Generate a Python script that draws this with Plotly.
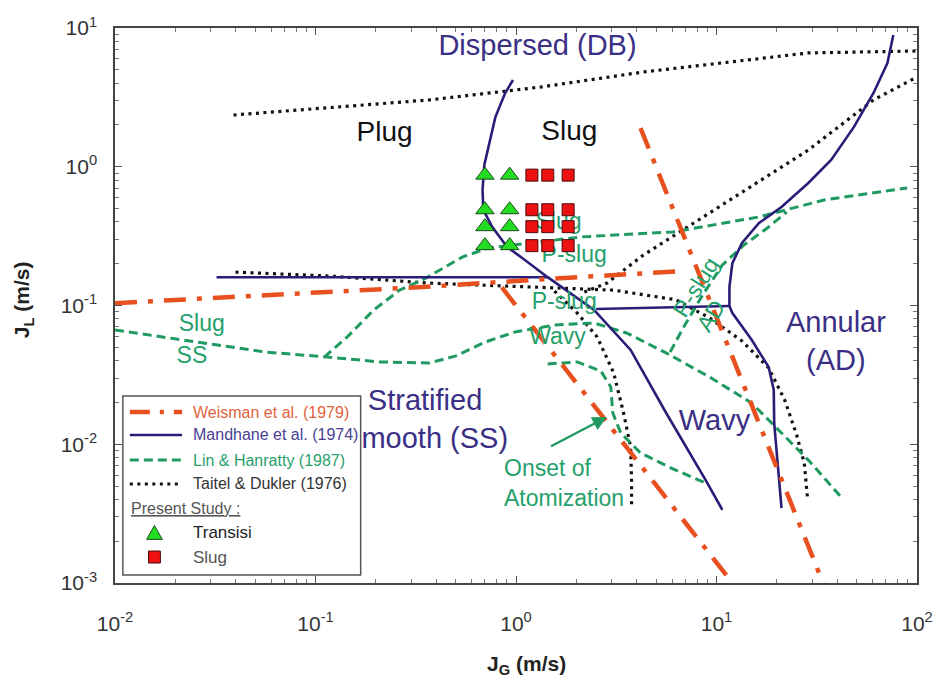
import numpy as np
import plotly.graph_objects as go

# ------------------------------------------------------------------ data
# Weisman et al. (1979)
weisman_h_jg = [0.01, 0.060, 0.344, 1.743, 6.80]
weisman_h_jl = [0.104, 0.119, 0.136, 0.158, 0.177]
weisman_l_jg = [0.85, 3.73, 12.0]
weisman_l_jl = [0.135, 0.00865, 0.001]
weisman_r_jg = [4.18, 12.0, 34.0]
weisman_r_jl = [1.90, 0.0425, 0.001]

# Mandhane et al. (1974)
mandhane_s_jg = [0.0321, 1.438]
mandhane_s_jl = [0.160, 0.160]
mandhane_db_jg = [0.966, 0.883, 0.789, 0.728, 0.695, 0.681, 0.687, 0.762, 0.903,
                  1.107, 1.438, 2.45, 3.73, 5.61, 8.83, 10.7]
mandhane_db_jl = [4.22, 3.40, 2.28, 1.39, 1.03, 0.680, 0.488, 0.368, 0.264,
                  0.213, 0.160, 0.0929, 0.0478, 0.0168, 0.00552, 0.00336]
mandhane_w_jg = [2.51, 11.6]
mandhane_w_jl = [0.0944, 0.0991]
mandhane_a_jg = [76.2, 71.2, 60.7, 48.4, 37.3, 28.7, 21.1, 16.3, 13.4, 12.0, 11.6,
                 11.6, 12.0, 15.0, 18.2, 19.3, 19.4, 20.4, 21.1]
mandhane_a_jl = [8.91, 5.59, 3.40, 1.93, 1.12, 0.764, 0.513, 0.393, 0.282, 0.202, 0.136,
                 0.0991, 0.0883, 0.0564, 0.0360, 0.0246, 0.0142, 0.00621, 0.00347]

# Lin & Hanratty (1987)
lin_1_jg = [0.01, 0.0262, 0.0561, 0.1146, 0.209, 0.369, 0.501, 0.703, 0.989, 1.556,
            2.45, 3.56, 5.61, 9.24, 15.0, 21.1, 28.7, 41.8]
lin_1_jl = [0.0666, 0.0546, 0.0462, 0.0425, 0.0392, 0.0385, 0.0433, 0.0546, 0.0644,
            0.0723, 0.0748, 0.0634, 0.0455, 0.0305, 0.0198, 0.01205, 0.00769, 0.00417]
lin_2_jg = [0.1106, 0.1439, 0.1954, 0.2625, 0.3565, 0.542, 0.728, 0.989, 2.11, 6.07,
            16.3, 34.4, 89.3]
lin_2_jl = [0.0425, 0.0593, 0.0929, 0.129, 0.158, 0.224, 0.2597, 0.273, 0.312, 0.339,
            0.435, 0.576, 0.703]
lin_3_jg = [5.87, 6.95, 8.53, 10.7, 13.7, 18.2, 22.4]
lin_3_jl = [0.0462, 0.0723, 0.119, 0.196, 0.273, 0.368, 0.472]
lin_4_jg = [1.438, 2.02, 2.65, 2.97, 3.04, 3.33, 4.18, 6.07, 8.83]
lin_4_jl = [0.0379, 0.0392, 0.0337, 0.0259, 0.0168, 0.01205, 0.00865, 0.00664, 0.00526]

# Taitel & Dukler (1976)
taitel_top_jg = [0.0390, 0.369, 1.343, 4.32, 28.7, 100]
taitel_top_jl = [2.36, 3.03, 3.76, 4.82, 6.61, 6.83]
taitel_diag_jg = [2.19, 2.84, 4.32, 7.03, 13.4, 28.7, 60.7, 100]
taitel_diag_jl = [0.125, 0.145, 0.231, 0.362, 0.647, 1.32, 3.03, 4.43]
taitel_s_jg = [0.0399, 0.1186, 0.369, 1.343, 3.07, 6.28, 9.24, 13.4, 18.2, 21.9,
               25.1, 27.4, 28.4]
taitel_s_jl = [0.174, 0.163, 0.145, 0.136, 0.129, 0.110, 0.0813, 0.0555, 0.0355,
               0.0208, 0.01167, 0.00733, 0.00417]
taitel_w_jg = [1.556, 2.02, 2.54, 3.07, 3.44, 3.73, 3.77, 3.77]
taitel_w_jl = [0.127, 0.0883, 0.0593, 0.0327, 0.0168, 0.00955, 0.00552, 0.00353]

# Present study
transisi_jg = [0.70, 0.93, 0.70, 0.93, 0.70, 0.93, 0.70, 0.93]
transisi_jl = [0.87, 0.87, 0.49, 0.49, 0.37, 0.37, 0.27, 0.27]
slug_jg = [1.20, 1.44, 1.82, 1.20, 1.44, 1.82, 1.20, 1.44, 1.82, 1.20, 1.44, 1.82]
slug_jl = [0.87, 0.87, 0.87, 0.49, 0.49, 0.49, 0.37, 0.37, 0.37, 0.27, 0.27, 0.27]

# axis ticks
tick_vals_x = [0.01, 0.1, 1, 10, 100]
tick_text_x = ["10<sup>-2</sup>", "10<sup>-1</sup>", "10<sup>0</sup>", "10<sup>1</sup>", "10<sup>2</sup>"]
tick_vals_y = [0.001, 0.01, 0.1, 1, 10]
tick_text_y = ["10<sup>-3</sup>", "10<sup>-2</sup>", "10<sup>-1</sup>", "10<sup>0</sup>", "10<sup>1</sup>"]

# region labels (data coordinates)
navy_labels = ["Dispersed (DB)", "Annular<br>(AD)", "Wavy", "Stratified<br>Smooth (SS)"]
navy_lab_jg = [1.28, 39.4, 9.77, 0.352]
navy_lab_jl = [7.17, 0.0528, 0.0142, 0.01446]
black_labels = ["Plug", "Slug"]
black_lab_jg = [0.221, 1.845]
black_lab_jl = [1.72, 1.75]
green_labels = ["Slug", "SS", "Slug", "P-slug", "P-slug", "Wavy"]
green_lab_jg = [0.0271, 0.0242, 1.63, 1.95, 1.74, 1.61]
green_lab_jl = [0.0723, 0.0425, 0.393, 0.2275, 0.104, 0.0583]

# ------------------------------------------------------------------ styles
FONT = "Liberation Sans, Arial, sans-serif"
W_COL = "#e8501f"
M_COL = "#2a1d78"
L_COL = "#1f9a60"
T_COL = "#111111"
NAVY_TXT = "#3a2f85"
GREEN_TXT = "#24a06b"

W_DASH = "22px,11px,5px,11px"
L_DASH = "9px,5px"
T_DASH = "3px,4.5px"

fig = go.Figure()


def add_line(x, y, color, width, dash):
    fig.add_trace(go.Scatter(x=x, y=y, mode="lines", showlegend=False,
                             line=dict(color=color, width=width, dash=dash),
                             hoverinfo="skip"))


for xs, ys in [(taitel_top_jg, taitel_top_jl), (taitel_diag_jg, taitel_diag_jl),
               (taitel_s_jg, taitel_s_jl), (taitel_w_jg, taitel_w_jl)]:
    add_line(xs, ys, T_COL, 3.2, T_DASH)

for xs, ys in [(lin_1_jg, lin_1_jl), (lin_2_jg, lin_2_jl),
               (lin_3_jg, lin_3_jl), (lin_4_jg, lin_4_jl)]:
    add_line(xs, ys, L_COL, 3, L_DASH)

for xs, ys in [(mandhane_s_jg, mandhane_s_jl), (mandhane_db_jg, mandhane_db_jl),
               (mandhane_w_jg, mandhane_w_jl), (mandhane_a_jg, mandhane_a_jl)]:
    add_line(xs, ys, M_COL, 2.6, "solid")

for xs, ys in [(weisman_h_jg, weisman_h_jl), (weisman_l_jg, weisman_l_jl),
               (weisman_r_jg, weisman_r_jl)]:
    add_line(xs, ys, W_COL, 4.5, W_DASH)

# text labels (below markers and legend box)
fig.add_trace(go.Scatter(x=navy_lab_jg, y=navy_lab_jl, mode="text", text=navy_labels,
                         textfont=dict(family=FONT, size=29, color=NAVY_TXT),
                         showlegend=False, hoverinfo="skip"))
fig.add_trace(go.Scatter(x=black_lab_jg, y=black_lab_jl, mode="text", text=black_labels,
                         textfont=dict(family=FONT, size=28, color="#111111"),
                         showlegend=False, hoverinfo="skip"))
fig.add_trace(go.Scatter(x=green_lab_jg, y=green_lab_jl, mode="text", text=green_labels,
                         textfont=dict(family=FONT, size=23, color=GREEN_TXT),
                         showlegend=False, hoverinfo="skip"))

# present-study markers
fig.add_trace(go.Scatter(x=transisi_jg, y=transisi_jl, mode="markers", showlegend=False,
                         marker=dict(symbol="triangle-up", size=16, color="#22dd22",
                                     line=dict(color="#1a4a1a", width=1))))
fig.add_trace(go.Scatter(x=slug_jg, y=slug_jl, mode="markers", showlegend=False,
                         marker=dict(symbol="square", size=12, color="#ee1111",
                                     line=dict(color="#4a0a0a", width=1))))

annotations = []
# rotated labels
annotations.append(dict(x=np.log10(7.88), y=np.log10(0.136), xref="x", yref="y",
                        text="P-slug", textangle=-58, showarrow=False,
                        font=dict(family=FONT, size=23, color=GREEN_TXT)))
annotations.append(dict(x=np.log10(9.34), y=np.log10(0.084), xref="x", yref="y",
                        text="AD", textangle=-58, showarrow=False,
                        font=dict(family=FONT, size=23, color=GREEN_TXT)))
annotations.append(dict(x=np.log10(0.853), y=np.log10(0.00526), xref="x", yref="y",
                        text="Onset of<br>Atomization", xanchor="left", align="left",
                        showarrow=False, font=dict(family=FONT, size=23, color=GREEN_TXT)))
annotations.append(dict(x=np.log10(2.84), y=np.log10(0.0157), xref="x", yref="y",
                        ax=np.log10(1.47), ay=np.log10(0.00955), axref="x", ayref="y",
                        text="", showarrow=True, arrowhead=2, arrowsize=1.2,
                        arrowwidth=2.4, arrowcolor=L_COL))

# axis titles
annotations.append(dict(x=0.513, y=-0.148, xref="paper", yref="paper",
                        xanchor="center", yanchor="middle",
                        text="<b>J<sub>G</sub> (m/s)</b>", showarrow=False,
                        font=dict(family=FONT, size=21, color="#222222")))
annotations.append(dict(x=-0.1144, y=0.51, xref="paper", yref="paper",
                        xanchor="center", yanchor="middle",
                        text="<b>J<sub>L</sub> (m/s)</b>", textangle=-90, showarrow=False,
                        font=dict(family=FONT, size=21, color="#222222")))

# ------------------------------------------------------------------ custom legend
shapes = []
shapes.append(dict(type="rect", xref="paper", yref="paper", x0=0.0098, x1=0.3063,
                   y0=0.0144, y1=0.3369, line=dict(color="#555555", width=1.5),
                   fillcolor="white", layer="above"))
leg_rows = [0.3081, 0.2667, 0.2216, 0.1784]
leg_styles = [(W_COL, 4.5, "20px,10px,4px,10px"), (M_COL, 2.6, "solid"),
              (L_COL, 3, L_DASH), (T_COL, 3.2, T_DASH)]
leg_names = ["Weisman et al. (1979)", "Mandhane et al. (1974)",
             "Lin &amp; Hanratty (1987)", "Taitel &amp; Dukler (1976)"]
leg_txt_cols = ["#e2623a", "#4a3f92", "#28a06c", "#333333"]
for yy, (c, w, d), nm, tc in zip(leg_rows, leg_styles, leg_names, leg_txt_cols):
    shapes.append(dict(type="line", xref="paper", yref="paper", x0=0.0185, x1=0.0836,
                       y0=yy, y1=yy, line=dict(color=c, width=w, dash=d), layer="above"))
    annotations.append(dict(x=0.0947, y=yy, xref="paper", yref="paper", text=nm,
                            xanchor="left", yanchor="middle", showarrow=False,
                            font=dict(family=FONT, size=16, color=tc)))
annotations.append(dict(x=0.0172, y=0.1351, xref="paper", yref="paper",
                        text="<u>Present Study :</u>", xanchor="left", yanchor="middle",
                        showarrow=False, font=dict(family=FONT, size=16, color="#555555")))
tx, ty = 0.0492, 0.0901
shapes.append(dict(type="path", xref="paper", yref="paper",
                   path=f"M{tx},{ty + 0.0135} L{tx - 0.0098},{ty - 0.0115} L{tx + 0.0098},{ty - 0.0115} Z",
                   fillcolor="#22dd22", line=dict(color="#1a4a1a", width=1), layer="above"))
sx, sy = 0.0492, 0.0468
shapes.append(dict(type="rect", xref="paper", yref="paper", x0=sx - 0.0074, x1=sx + 0.0074,
                   y0=sy - 0.0108, y1=sy + 0.0108, fillcolor="#ee1111",
                   line=dict(color="#4a0a0a", width=1), layer="above"))
annotations.append(dict(x=0.0947, y=ty, xref="paper", yref="paper", text="Transisi",
                        xanchor="left", yanchor="middle", showarrow=False,
                        font=dict(family=FONT, size=17, color="#222222")))
annotations.append(dict(x=0.0947, y=sy, xref="paper", yref="paper", text="Slug",
                        xanchor="left", yanchor="middle", showarrow=False,
                        font=dict(family=FONT, size=17, color="#555555")))

# ------------------------------------------------------------------ axes
minor_vals = [k * 10.0 ** e for e in range(-3, 2) for k in range(2, 10)]
axis_common = dict(type="log", showgrid=False, zeroline=False, showline=True,
                   linecolor="#444444", linewidth=1.5, mirror="ticks",
                   ticks="inside", ticklen=7, tickwidth=1.2, tickcolor="#555555",
                   tickfont=dict(family=FONT, size=21, color="#333333"),
                   minor=dict(ticks="inside", ticklen=4, tickwidth=1, tickcolor="#777777",
                              tickmode="array", tickvals=minor_vals, showgrid=False))

fig.update_xaxes(range=[-2, 2], tickmode="array", tickvals=tick_vals_x,
                 ticktext=tick_text_x, ticklabelstandoff=21, **axis_common)
fig.update_yaxes(range=[-3, 1], tickmode="array", tickvals=tick_vals_y,
                 ticktext=tick_text_y, ticklabelstandoff=12, **axis_common)

fig.update_layout(width=945, height=688, margin=dict(l=115, r=17, t=28, b=105),
                  plot_bgcolor="white", paper_bgcolor="white",
                  font=dict(family=FONT), shapes=shapes, annotations=annotations,
                  showlegend=False)

fig.write_html("out.html")
